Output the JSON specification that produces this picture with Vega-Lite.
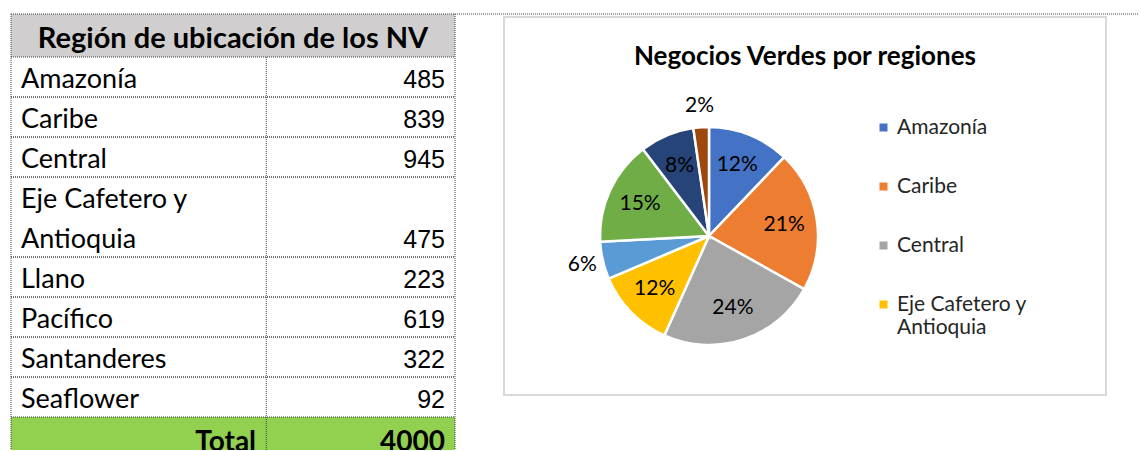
{
  "$schema": "https://vega.github.io/schema/vega-lite/v6.json",
  "padding": {"left": 10, "top": 13, "right": 0, "bottom": 0},
  "autosize": {"type": "pad"},
  "background": "white",
  "bounds": "flush",
  "spacing": 49,
  "datasets": {
    "regions": [
      {"region": "Amazonía", "nv": 485},
      {"region": "Caribe", "nv": 839},
      {"region": "Central", "nv": 945},
      {"region": "Eje Cafetero y Antioquia", "nv": 475},
      {"region": "Llano", "nv": 223},
      {"region": "Pacífico", "nv": 619},
      {"region": "Santanderes", "nv": 322},
      {"region": "Seaflower", "nv": 92}
    ]
  },
  "hconcat": [
    {
      "width": 444,
      "height": 433,
      "view": {"stroke": null},
      "layer": [
        {
          "data": {"values": [{"t": "Región de ubicación de los NV"}]},
          "mark": {"type": "rect", "fill": "#D0CECE"},
          "encoding": {
            "x": {"datum": 0, "type": "quantitative", "scale": {"domain": [0, 1], "nice": false, "zero": false}, "axis": null},
            "x2": {"datum": 1},
            "y": {"datum": -0.075, "type": "quantitative", "scale": {"domain": [0, 10.825], "reverse": true, "nice": false, "zero": false}, "axis": null},
            "y2": {"datum": 1}
          }
        },
        {
          "data": {"values": [{}]},
          "mark": {"type": "rect", "fill": "#92D050", "clip": true},
          "encoding": {
            "x": {"datum": 0, "type": "quantitative"},
            "x2": {"datum": 1},
            "y": {"datum": 10, "type": "quantitative"},
            "y2": {"datum": 11}
          }
        },
        {
          "data": {"values": [{"t": "Región de ubicación de los NV"}]},
          "mark": {"type": "text", "font": "Lato", "fontWeight": "bold", "fontSize": 29, "align": "center", "baseline": "alphabetic", "dy": -9, "fill": "#000"},
          "encoding": {
            "x": {"datum": 0.5, "type": "quantitative"},
            "y": {"datum": 1, "type": "quantitative"},
            "text": {"field": "t"}
          }
        },
        {
          "data": {"name": "regions"},
          "transform": [
            {"calculate": "indexof(datum.region, ' y ') > 0 ? [substring(datum.region, 0, indexof(datum.region, ' y ') + 2), substring(datum.region, indexof(datum.region, ' y ') + 3)] : datum.region", "as": "label"},
            {"calculate": "isArray(datum.label) ? length(datum.label) : 1", "as": "lines"},
            {"window": [{"op": "sum", "field": "lines", "as": "cum"}], "frame": [null, 0]},
            {"calculate": "1 + datum.cum", "as": "y1"},
            {"calculate": "datum.y1 - datum.lines", "as": "y0"},
            {"calculate": "datum.y0 + 1", "as": "yt"}
          ],
          "layer": [
            {
              "mark": {"type": "rule", "stroke": "#444", "strokeWidth": 1, "strokeDash": [1, 1]},
              "encoding": {
                "y": {"field": "y1", "type": "quantitative"},
                "x": {"datum": 0, "type": "quantitative"},
                "x2": {"datum": 1}
              }
            },
            {
              "mark": {"type": "rule", "stroke": "#444", "strokeWidth": 1, "strokeDash": [1, 1]},
              "encoding": {
                "y": {"field": "y0", "type": "quantitative"},
                "x": {"datum": 0, "type": "quantitative"},
                "x2": {"datum": 1}
              }
            },
            {
              "mark": {"type": "text", "align": "left", "baseline": "alphabetic", "font": "Lato", "fontSize": 27, "lineHeight": 40, "dy": -9, "fill": "#000"},
              "encoding": {
                "x": {"datum": 0.0225, "type": "quantitative"},
                "y": {"field": "yt", "type": "quantitative"},
                "text": {"field": "label", "type": "nominal"}
              }
            },
            {
              "mark": {"type": "text", "align": "right", "baseline": "alphabetic", "font": "Liberation Sans", "fontSize": 25, "dy": -9, "fill": "#000"},
              "encoding": {
                "x": {"datum": 0.9775, "type": "quantitative"},
                "y": {"field": "y1", "type": "quantitative"},
                "text": {"field": "nv", "type": "quantitative", "format": "d"}
              }
            }
          ]
        },
        {
          "data": {"name": "regions"},
          "transform": [{"aggregate": [{"op": "sum", "field": "nv", "as": "total"}]}],
          "layer": [
            {
              "mark": {"type": "text", "align": "right", "baseline": "alphabetic", "font": "Lato", "fontWeight": "bold", "fontSize": 28, "dy": -6, "fill": "#000", "clip": true},
              "encoding": {
                "x": {"datum": 0.552, "type": "quantitative"},
                "y": {"datum": 11, "type": "quantitative"},
                "text": {"value": "Total"}
              }
            },
            {
              "mark": {"type": "text", "align": "right", "baseline": "alphabetic", "font": "Lato", "fontWeight": "bold", "fontSize": 28, "dy": -6, "fill": "#000", "clip": true},
              "encoding": {
                "x": {"datum": 0.9775, "type": "quantitative"},
                "y": {"datum": 11, "type": "quantitative"},
                "text": {"field": "total", "type": "quantitative", "format": "d"}
              }
            }
          ]
        },
        {
          "data": {"values": [{}]},
          "mark": {"type": "rule", "stroke": "#444", "strokeWidth": 1, "strokeDash": [1, 1]},
          "encoding": {
            "x": {"datum": 0.575, "type": "quantitative"},
            "y": {"datum": 1, "type": "quantitative"},
            "y2": {"datum": 10.825}
          }
        },
        {
          "data": {"values": [{}]},
          "mark": {"type": "rule", "stroke": "#444", "strokeWidth": 1, "strokeDash": [1, 1]},
          "encoding": {
            "x": {"datum": 0, "type": "quantitative"},
            "y": {"datum": -0.075, "type": "quantitative"},
            "y2": {"datum": 10.825}
          }
        },
        {
          "data": {"values": [{}]},
          "mark": {"type": "rule", "stroke": "#444", "strokeWidth": 1, "strokeDash": [1, 1]},
          "encoding": {
            "x": {"datum": 1, "type": "quantitative"},
            "y": {"datum": -0.075, "type": "quantitative"},
            "y2": {"datum": 10.825}
          }
        },
        {
          "data": {"values": [{}]},
          "mark": {"type": "rule", "stroke": "#444", "strokeWidth": 1, "strokeDash": [1, 1]},
          "encoding": {
            "y": {"datum": -0.075, "type": "quantitative"},
            "x": {"datum": 0, "type": "quantitative"},
            "x2": {"datum": 2.54}
          }
        }
      ]
    },
    {
      "width": 602,
      "height": 378,
      "view": {"stroke": "#D9D9D9", "strokeWidth": 2, "fill": "white"},
      "title": {"text": "Negocios Verdes por regiones", "font": "Lato", "fontSize": 26, "fontWeight": "bold", "color": "#000", "offset": -53, "anchor": "middle"},
      "data": {"name": "regions"},
      "transform": [
        {"joinaggregate": [{"op": "sum", "field": "nv", "as": "total"}]},
        {"calculate": "datum.nv / datum.total", "as": "pct"}
      ],
      "encoding": {
        "theta": {"field": "nv", "type": "quantitative", "stack": true},
        "order": {"field": "region", "type": "ordinal", "sort": "ascending"}
      },
      "layer": [
        {
          "mark": {"type": "arc", "outerRadius": 109, "x": 205, "y": 219, "stroke": "#FFFFFF", "strokeWidth": 2.5},
          "encoding": {
            "color": {
              "field": "region",
              "type": "nominal",
              "scale": {
                "domain": ["Amazonía", "Caribe", "Central", "Eje Cafetero y Antioquia", "Llano", "Pacífico", "Santanderes", "Seaflower"],
                "range": ["#4472C4", "#ED7D31", "#A5A5A5", "#FFC000", "#5B9BD5", "#70AD47", "#264478", "#9E480E"]
              },
              "legend": {
                "values": ["Amazonía", "Caribe", "Central", "Eje Cafetero y Antioquia"],
                "orient": "none",
                "legendX": 862,
                "legendY": 100,
                "title": null,
                "padding": 0,
                "symbolType": "square",
                "symbolSize": 64,
                "symbolStrokeWidth": 0,
                "labelFont": "Lato",
                "labelFontSize": 21,
                "labelColor": "#262626",
                "labelOffset": 3,
                "labelLimit": 300,
                "rowPadding": 37,
                "labelExpr": "indexof(datum.label, ' y ') > 0 ? [substring(datum.label, 0, indexof(datum.label, ' y ') + 2), substring(datum.label, indexof(datum.label, ' y ') + 3)] : datum.label"
              }
            }
          }
        },
        {
          "mark": {"type": "text", "x": 205, "y": 219, "font": "Lato", "fontSize": 21, "fill": "#000", "radius": {"expr": "datum.pct < 0.07 ? 130 : 76"}},
          "encoding": {
            "detail": {"field": "region", "type": "nominal"},
            "text": {"field": "pct", "type": "quantitative", "format": ".0%"}
          }
        }
      ]
    }
  ]
}
